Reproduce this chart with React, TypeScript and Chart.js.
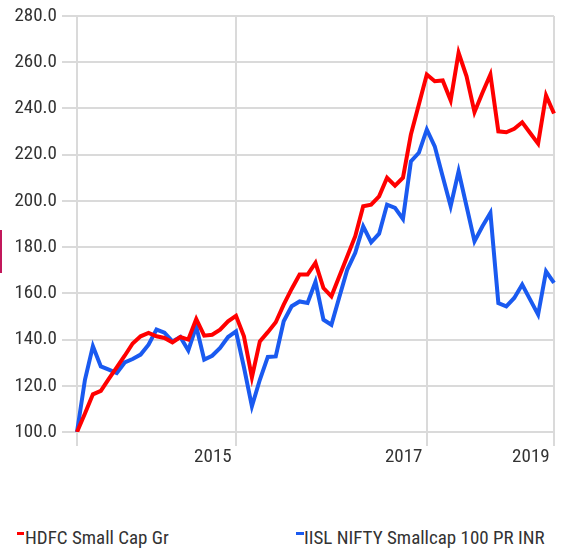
import React, { useEffect, useRef } from 'react';
import { Chart, registerables } from 'chart.js';

Chart.register(...registerables);

const months = [
  'Apr 2014', 'May 2014', 'Jun 2014', 'Jul 2014', 'Aug 2014', 'Sep 2014', 'Oct 2014', 'Nov 2014', 'Dec 2014',
  'Jan 2015', 'Feb 2015', 'Mar 2015', 'Apr 2015', 'May 2015', 'Jun 2015', 'Jul 2015', 'Aug 2015', 'Sep 2015', 'Oct 2015', 'Nov 2015', 'Dec 2015',
  'Jan 2016', 'Feb 2016', 'Mar 2016', 'Apr 2016', 'May 2016', 'Jun 2016', 'Jul 2016', 'Aug 2016', 'Sep 2016', 'Oct 2016', 'Nov 2016', 'Dec 2016',
  'Jan 2017', 'Feb 2017', 'Mar 2017', 'Apr 2017', 'May 2017', 'Jun 2017', 'Jul 2017', 'Aug 2017', 'Sep 2017', 'Oct 2017', 'Nov 2017', 'Dec 2017',
  'Jan 2018', 'Feb 2018', 'Mar 2018', 'Apr 2018', 'May 2018', 'Jun 2018', 'Jul 2018', 'Aug 2018', 'Sep 2018', 'Oct 2018', 'Nov 2018', 'Dec 2018',
  'Jan 2019', 'Feb 2019', 'Mar 2019', 'Apr 2019',
];

const hdfcSmallCap = [
  100, 108, 116.3, 117.8, 123, 128, 133, 138.3, 141.4, 142.9,
  141.4, 140.7, 138.8, 141.1, 140, 148.9, 141.7, 142.1, 144.3, 147.9,
  150.3, 141.4, 123.6, 139.2, 143.2, 147.5, 155.1, 161.9, 168.1, 168.1,
  173.2, 162.3, 158.7, 167.4, 176, 184.7, 197.7, 198.4, 202, 210,
  206.6, 210, 228.7, 241.7, 254.7, 251.8, 252.1, 243.5, 264.1, 253.9,
  238.4, 246.8, 254.7, 230.1, 229.7, 231.2, 234, 229.4, 224.8, 245.6,
  237.8,
];

const niftySmallcap = [
  100, 122.6, 137.1, 128.4, 127, 125.5, 130.1, 131.6, 133.5, 137.8,
  144.3, 143, 139.2, 141.1, 135.3, 145.7, 131.3, 133, 136.4, 141.1,
  143.5, 128, 111.1, 122.6, 132.5, 132.7, 147.9, 154.4, 156.5, 155.8,
  165, 148.6, 146.4, 158.4, 170.3, 177.5, 189, 182.1, 185.8, 198.4,
  197, 192.2, 217.1, 220.8, 230.9, 223.6, 210.6, 197.7, 212.8, 197.7,
  182.5, 189, 194.8, 155.8, 154.4, 158, 163.8, 157.3, 150.8, 169.5,
  164.5,
];

const seriesNames = ['HDFC Small Cap Gr', 'IISL NIFTY Smallcap 100 PR INR'];
const xGridIndices = [0, 20, 44, 60];
const xGridLabels = ['', '2015', '2017', '2019'];
const yMin = 100;
const yMax = 280;
const yStep = 20;

const FONT = "'Liberation Sans Narrow', 'Arial Narrow', 'Roboto Condensed', 'DejaVu Sans Condensed', sans-serif";
const RED = '#ff0000';
const BLUE = '#1a5af0';
const GRID = '#dadada';
const TEXT = '#333333';

export default function App() {
  const ref = useRef<HTMLCanvasElement>(null);

  useEffect(() => {
    if (!ref.current) return;
    const chart = new Chart(ref.current, {
      type: 'line',
      data: {
        labels: months,
        datasets: [
          {
            label: seriesNames[0],
            data: hdfcSmallCap,
            borderColor: RED,
            backgroundColor: RED,
            borderWidth: 4,
            pointRadius: 0,
            tension: 0,
            fill: false,
          },
          {
            label: seriesNames[1],
            data: niftySmallcap,
            borderColor: BLUE,
            backgroundColor: BLUE,
            borderWidth: 4,
            pointRadius: 0,
            tension: 0,
            fill: false,
          },
        ],
      },
      options: {
        animation: false,
        responsive: false,
        maintainAspectRatio: false,
        layout: { padding: { top: 16, right: 8, left: 0, bottom: 0 } },
        plugins: { legend: { display: false }, tooltip: { enabled: false } },
        scales: {
          x: {
            type: 'category',
            grid: { color: GRID, lineWidth: 2, tickLength: 14, drawTicks: true, tickColor: GRID },
            border: { display: false },
            afterBuildTicks: (s: any) => {
              s.ticks = s.ticks.filter((t: any) => xGridIndices.includes(t.value));
            },
            afterFit: (s: any) => {
              s.height = 48;
            },
            ticks: {
              autoSkip: false,
              maxRotation: 0,
              minRotation: 0,
              align: 'end',
              padding: 2,
              color: TEXT,
              font: { family: FONT, size: 19, lineHeight: 1 },
              callback: (v: any) => {
                const k = xGridIndices.indexOf(Number(v));
                return k >= 0 && xGridLabels[k] ? xGridLabels[k] + ' ' : '';
              },
            },
          },
          y: {
            min: yMin,
            max: yMax,
            grid: { color: GRID, lineWidth: 2, tickLength: 15, drawTicks: true, tickColor: GRID },
            border: { display: false },
            afterFit: (s: any) => {
              s.width = 77;
            },
            ticks: {
              stepSize: yStep,
              padding: 5,
              color: TEXT,
              font: { family: FONT, size: 19, lineHeight: 1 },
              callback: (v: any) => Number(v).toFixed(1),
            },
          },
        },
      },
    } as any);
    return () => chart.destroy();
  }, []);

  const legendText: React.CSSProperties = {
    position: 'absolute',
    fontFamily: FONT,
    fontSize: 19,
    lineHeight: '19px',
    color: TEXT,
    whiteSpace: 'nowrap',
    top: 528,
  };

  return (
    <div style={{ position: 'absolute', left: 0, top: 0, width: 562, height: 548, background: '#fff', overflow: 'hidden' }}>
      <canvas ref={ref} width={562} height={480} style={{ position: 'absolute', left: 0, top: 0, display: 'block' }} />
      <div style={{ position: 'absolute', left: 0, top: 230, width: 2, height: 43, background: '#c2185b' }} />
      <div style={{ position: 'absolute', left: 17, top: 532, width: 7, height: 3, background: RED }} />
      <div style={{ ...legendText, left: 25 }}>{seriesNames[0]}</div>
      <div style={{ position: 'absolute', left: 296, top: 532, width: 8, height: 3, background: BLUE }} />
      <div style={{ ...legendText, left: 304 }}>{seriesNames[1]}</div>
    </div>
  );
}
